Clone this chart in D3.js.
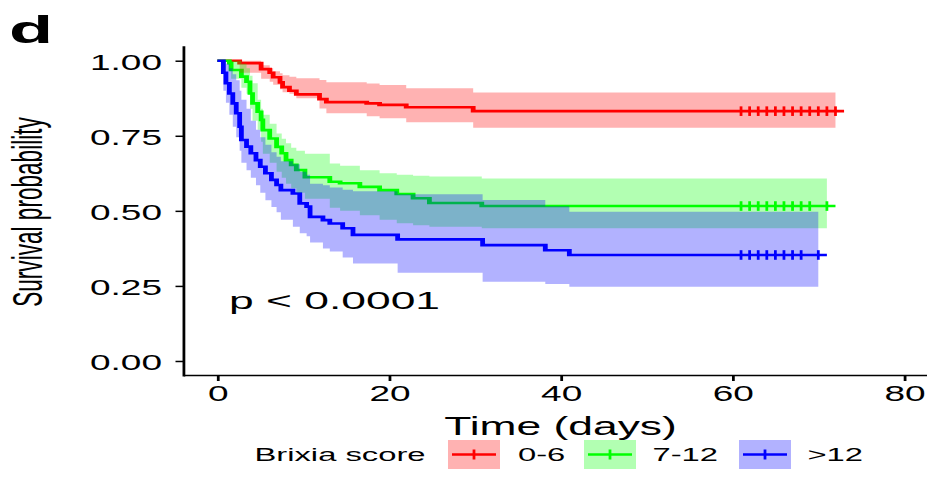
<!DOCTYPE html>
<html>
<head>
<meta charset="utf-8">
<script src="https://cdn.jsdelivr.net/npm/d3@7"></script>
<style>
  html, body { margin: 0; padding: 0; background: #fff; }
  svg { display: block; }
  text { font-family: "Liberation Sans", Arial, Helvetica, sans-serif; fill: #000; }
</style>
</head>
<body>
<svg id="chart" width="927" height="490"></svg>
<script>
// ---------------- data ----------------
const groupLabels = ["0-6", "7-12", ">12"];
const groupColors = ["#FF0000", "#00FF00", "#0000FF"];
const legendTitle = "Brixia score";

// 0-6
const redTime  = [0, 2.6, 5.1, 6.1, 6.5, 7.3, 7.6, 8.4, 9.2, 11.9, 12.7, 17.4, 18.9, 22, 29.8];
const redSurv  = [1, .992, .972, .96, .945, .928, .912, .9, .888, .872, .862, .858, .853, .845, .832];
const redLower = [1, .96, .94, .93, .92, .905, .895, .89, .875, .841, .825, .815, .808, .795, .777];
const redUpper = [1, 1, .985, .975, .965, .958, .952, .947, .942, .936, .928, .924, .919, .908, .894];
const redCensor = [61, 62, 63, 64, 65, 66, 67, 68, 69, 70, 71, 72];
const redLineEnd = 73, redBandEnd = 72;

// 7-12
const greenTime  = [0, 1.4, 1.6, 2.8, 3.4, 3.8, 4.1, 4.7, 5.1, 5.3, 6.1, 6.9, 7.5, 8.0, 8.6, 9.2, 10.2, 13.1, 14.3, 16.6, 18.9, 20.9, 22.8, 24.7, 30.8];
const greenSurv  = [1, .992, .969, .947, .93, .891, .858, .83, .803, .769, .741, .713, .692, .669, .653, .636, .612, .597, .592, .58, .569, .556, .542, .526, .516];
const greenLower = [1, .975, .94, .91, .89, .84, .8, .77, .73, .69, .66, .63, .61, .59, .575, .56, .54, .51, .5, .485, .47, .459, .452, .447, .442];
const greenUpper = [1, 1, 1, .99, .975, .95, .925, .87, .84, .82, .79, .758, .74, .725, .71, .7, .69, .658, .65, .635, .625, .62, .617, .614, .608];
const greenCensor = [61, 62, 63, 64, 65, 66, 67, 68, 69, 71];
const greenLineEnd = 72, greenBandEnd = 71;

// >12
const blueTime  = [0, 0.7, 1.0, 1.4, 1.8, 2.2, 2.6, 2.8, 3.4, 3.9, 4.5, 5.0, 5.6, 6.3, 6.9, 7.4, 8.8, 9.6, 10.4, 10.8, 12.3, 13.1, 14.6, 15.8, 21.0, 30.9, 38.2, 41.0];
const blueSurv  = [1, .96, .925, .891, .858, .825, .78, .736, .714, .692, .669, .647, .625, .603, .586, .569, .558, .525, .514, .48, .469, .458, .442, .42, .405, .386, .369, .353];
const blueLower = [1, .9, .86, .82, .78, .745, .7, .66, .635, .61, .585, .56, .535, .513, .495, .47, .447, .425, .415, .395, .375, .365, .345, .325, .294, .264, .256, .247];
const blueUpper = [1, 1, .99, .975, .955, .935, .9, .87, .84, .8, .77, .745, .72, .695, .68, .665, .655, .63, .62, .59, .585, .578, .57, .565, .555, .536, .515, .497];
const blueCensor = [61, 62, 63, 64, 65, 66, 67, 68, 70];
const blueLineEnd = 71, blueBandEnd = 70;

const xTicks = [0, 20, 40, 60, 80];
const yTicks = [0, 0.25, 0.5, 0.75, 1];
const xTitle = "Time (days)";
const yTitle = "Survival probability";
const pText = "p < 0.0001";
const panelLabel = "d";

// ---------------- drawing ----------------
const SX = 1.85; // horizontal stretch of the whole figure
const svg = d3.select("#chart");
svg.append("rect").attr("width", 927).attr("height", 490).attr("fill", "#fff");
const g = svg.append("g").attr("transform", `scale(${SX},1)`);

const x = d3.scaleLinear().domain([-4, 84]).range([183 / SX, 938.5 / SX]);
const y = d3.scaleLinear().domain([-0.05, 1.05]).range([376, 45.7]);

const series = [
  {time: redTime, surv: redSurv, lo: redLower, hi: redUpper, censor: redCensor, lineEnd: redLineEnd, bandEnd: redBandEnd},
  {time: greenTime, surv: greenSurv, lo: greenLower, hi: greenUpper, censor: greenCensor, lineEnd: greenLineEnd, bandEnd: greenBandEnd},
  {time: blueTime, surv: blueSurv, lo: blueLower, hi: blueUpper, censor: blueCensor, lineEnd: blueLineEnd, bandEnd: blueBandEnd}
];

const line = d3.line().x(d => x(d.t)).y(d => y(d.s)).curve(d3.curveStepAfter);
const area = d3.area().x(d => x(d.t)).y0(d => y(d.lo)).y1(d => y(d.hi)).curve(d3.curveStepAfter);

// lines first
series.forEach((s, i) => {
  const pts = s.time.map((t, k) => ({t, s: s.surv[k]}));
  pts.push({t: s.lineEnd, s: s.surv[s.surv.length - 1]});
  g.append("path").attr("d", line(pts)).attr("fill", "none")
    .attr("stroke", groupColors[i]).attr("stroke-width", 2.6);
});
// ribbons
series.forEach((s, i) => {
  const pts = s.time.map((t, k) => ({t, lo: s.lo[k], hi: s.hi[k]}));
  pts.push({t: s.bandEnd, lo: s.lo[s.lo.length - 1], hi: s.hi[s.hi.length - 1]});
  g.append("path").attr("d", area(pts)).attr("fill", groupColors[i]).attr("fill-opacity", 0.3);
});
// censor marks
series.forEach((s, i) => {
  const last = s.surv[s.surv.length - 1];
  g.append("g").selectAll("line").data(s.censor).join("line")
    .attr("x1", d => x(d)).attr("x2", d => x(d))
    .attr("y1", y(last) - 4.8).attr("y2", y(last) + 4.8)
    .attr("stroke", groupColors[i]).attr("stroke-width", 1.5);
});

// axes
const yAxis = d3.axisLeft(y).tickValues(yTicks).tickFormat(d3.format(".2f"))
  .tickSize(7.5 / SX).tickPadding(13.5 / SX).tickSizeOuter(0);
const xAxis = d3.axisBottom(x).tickValues(xTicks).tickFormat(d3.format("d"))
  .tickSize(6).tickPadding(5).tickSizeOuter(0);

const gy = g.append("g").attr("transform", `translate(${183 / SX},0)`).call(yAxis);
const gx = g.append("g").attr("transform", `translate(0,375)`).call(xAxis);
const TF = 21.5, TK = 20 / 21.5; // taller tick labels, same width
[gx, gy].forEach(a => {
  a.select(".domain").attr("stroke", "#000").attr("stroke-width", 1.5);
  a.selectAll(".tick line").attr("stroke", "#000").attr("stroke-width", 1.5);
  a.selectAll(".tick text").attr("font-size", TF).attr("fill", "#000")
    .attr("font-family", '"Liberation Sans", Arial, Helvetica, sans-serif')
    .attr("transform", `scale(${TK},1)`);
});
gy.selectAll(".tick text").attr("dy", "0.40em").attr("x", -(21 / SX) / TK);

// axis titles
const XF = 25.5, XK = 24 / 25.5;
g.append("text").attr("transform", `translate(${560.5 / SX},434.5) scale(${XK},1)`)
  .attr("text-anchor", "middle").attr("font-size", XF).text(xTitle);
g.append("text").attr("transform", `translate(${42 / SX},212) rotate(-90)`)
  .attr("text-anchor", "middle").attr("font-size", 22.6).text(yTitle);

// p value
g.append("text").attr("transform", `translate(${229 / SX},309) scale(${24 / 24.5},1)`)
  .attr("font-size", 24.5).text(pText);

// panel label
g.append("text").attr("x", 9 / SX).attr("y", 42.7).attr("font-size", 39)
  .attr("font-weight", "bold").text(panelLabel);

// legend
const boxX = [448, 584, 739];
const labX = [518, 652.5, 807.5];
const boxY = 440, boxH = 29, boxW = 52;
g.append("text").attr("x", 254.5 / SX).attr("y", 461).attr("font-size", 17.7).text(legendTitle);
groupLabels.forEach((lab, i) => {
  const bx = boxX[i] / SX, bw = boxW / SX;
  g.append("rect").attr("x", bx).attr("y", boxY).attr("width", bw).attr("height", boxH)
    .attr("fill", groupColors[i]).attr("fill-opacity", 0.3);
  g.append("line").attr("x1", bx + 4 / SX).attr("x2", bx + bw - 4 / SX)
    .attr("y1", boxY + boxH / 2).attr("y2", boxY + boxH / 2)
    .attr("stroke", groupColors[i]).attr("stroke-width", 2.6);
  g.append("line").attr("x1", bx + bw / 2).attr("x2", bx + bw / 2)
    .attr("y1", boxY + boxH / 2 - 5).attr("y2", boxY + boxH / 2 + 5)
    .attr("stroke", groupColors[i]).attr("stroke-width", 1.5);
  g.append("text").attr("x", labX[i] / SX).attr("y", 461).attr("font-size", 17.7).text(lab);
});
</script>
</body>
</html>
